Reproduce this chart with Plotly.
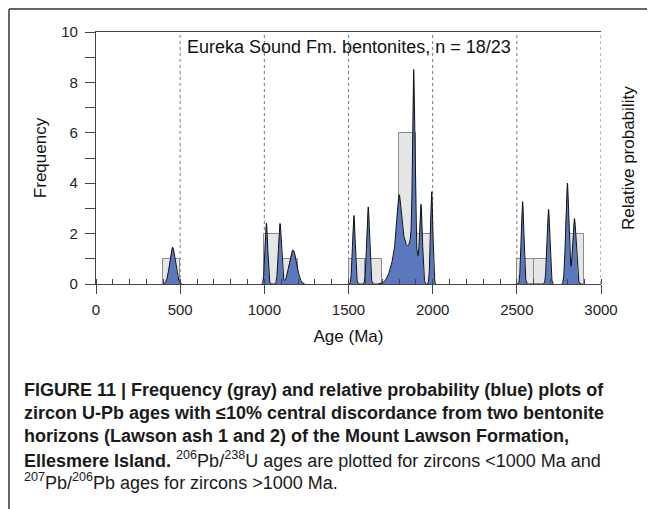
import numpy as np
import plotly.graph_objects as go

# ---------------- data ----------------
# histogram (gray): bin start (Ma), bin width 100 Ma, counts
bin_starts = [400, 1000, 1100, 1500, 1600, 1800, 1900, 2500, 2600, 2800]
bin_counts = [1, 2, 1, 1, 1, 6, 2, 1, 1, 2]
bin_width = 100

# relative probability (blue): Gaussian components
peak_ages = [455, 1012, 1093, 1170, 1532, 1617, 1800, 1810, 1887, 1888, 1931, 1994,
             2534, 2688, 2800, 2842]
peak_sigmas = [17, 8, 9, 22, 8, 8.5, 12, 40, 6, 20, 8, 7, 8, 8.5, 9.5, 10.5]
peak_heights = [1.46, 2.42, 2.4, 1.35, 2.72, 3.06, 1.6, 2.0, 6.4, 1.8, 2.96, 3.66,
                3.27, 2.96, 4.0, 2.6]

x_ticks = [0, 500, 1000, 1500, 2000, 2500, 3000]
y_ticks = [0, 2, 4, 6, 8, 10]

title_text = "Eureka Sound Fm. bentonites, n = 18/23"
caption_lines = [
    "<b>FIGURE 11 | Frequency (gray) and relative probability (blue) plots of</b>",
    "<b>zircon U-Pb ages with ≤10% central discordance from two bentonite</b>",
    "<b>horizons (Lawson ash 1 and 2) of the Mount Lawson Formation,</b>",
    "<b>Ellesmere Island.</b> <sup>206</sup>Pb/<sup>238</sup>U ages are plotted for zircons &lt;1000 Ma and",
    "<sup>207</sup>Pb/<sup>206</sup>Pb ages for zircons &gt;1000 Ma.",
]

# ---------------- build ----------------
ages = np.linspace(0, 3000, 6001)
prob = np.zeros_like(ages)
for a, s, h in zip(peak_ages, peak_sigmas, peak_heights):
    prob += h * np.exp(-((ages - a) ** 2) / (2 * s * s))
prob_line = np.where(prob > 0.01, prob, np.nan)

OFF = 8                      # page body margin
W, H = 655 - OFF, 509 - OFF
L, R, T, B = 96, 601, 32, 284  # plot area in page pixels


def px(x):
    return (x - L) / (R - L)


def py(y):
    return (B - y) / (B - T)


FONT = "Liberation Sans, Arial, Helvetica, sans-serif"

fig = go.Figure()

fig.add_trace(go.Bar(
    x=[s + bin_width / 2 for s in bin_starts], y=bin_counts, width=bin_width,
    marker=dict(color="#e6e6e6", line=dict(color="#8a8a8a", width=1)),
    hoverinfo="skip", showlegend=False,
))
fig.add_trace(go.Scatter(
    x=ages, y=prob, mode="none", fill="tozeroy", fillcolor="#5b78be",
    hoverinfo="skip", showlegend=False,
))
fig.add_trace(go.Scatter(
    x=ages, y=prob_line, mode="lines", line=dict(color="#111111", width=1),
    hoverinfo="skip", showlegend=False, connectgaps=False,
))

shapes = []
for xv in x_ticks[1:]:
    shapes.append(dict(type="line", xref="x", yref="y", x0=xv, x1=xv, y0=0, y1=10,
                       line=dict(color="#777777", width=1, dash="dot"), layer="below"))
# outer figure frame (top and left)
shapes.append(dict(type="line", xref="paper", yref="paper", x0=px(9), x1=px(660),
                   y0=py(9), y1=py(9), line=dict(color="#666666", width=2)))
shapes.append(dict(type="line", xref="paper", yref="paper", x0=px(9), x1=px(9),
                   y0=py(9), y1=py(520), line=dict(color="#666666", width=2)))

annotations = [
    dict(text=title_text, x=1500, y=9.4, xref="x", yref="y", showarrow=False,
         font=dict(family=FONT, size=18, color="#111111"), xanchor="center", yanchor="middle"),
    dict(text="Relative probability", x=px(628), y=0.5, xref="paper", yref="paper",
         showarrow=False, textangle=-90, font=dict(family=FONT, size=17, color="#111111"),
         xanchor="center", yanchor="middle"),
]
for i, line in enumerate(caption_lines):
    annotations.append(dict(
        text=line, x=px(22), y=py(390 + 23 * i), xref="paper", yref="paper",
        showarrow=False, xanchor="left", yanchor="middle", align="left",
        font=dict(family=FONT, size=18, color="#1a1a1a"),
    ))

fig.update_layout(
    width=W, height=H, autosize=False,
    margin=dict(l=L - OFF, r=(W + OFF) - R, t=T - OFF, b=(H + OFF) - B, pad=0),
    paper_bgcolor="white", plot_bgcolor="white",
    bargap=0, shapes=shapes, annotations=annotations,
    font=dict(family=FONT, color="#111111"),
)
fig.update_xaxes(
    range=[0, 3000], tickvals=x_ticks, ticks="outside", ticklen=9, tickcolor="#444444",
    tickwidth=1, showline=True, linecolor="#444444", linewidth=1.2, mirror=True,
    showgrid=False, zeroline=False, tickfont=dict(size=15, color="#222222"),
    ticklabelstandoff=3,
    minor=dict(dtick=100, tick0=0, ticks="inside", ticklen=5, tickcolor="#444444", showgrid=False),
    title=dict(text="Age (Ma)", font=dict(size=17), standoff=13),
)
fig.update_yaxes(
    range=[0, 10], tickvals=list(range(0, 11)),
    ticktext=[str(v) if v in y_ticks else "" for v in range(0, 11)],
    ticks="outside", ticklen=10, tickcolor="#444444", tickwidth=1,
    showline=True, linecolor="#444444", linewidth=1.2, mirror=False,
    showgrid=False, zeroline=False, tickfont=dict(size=15, color="#222222"),
    ticklabelstandoff=4,
    title=dict(text="Frequency", font=dict(size=17), standoff=10),
)

fig.write_html("out.html")
